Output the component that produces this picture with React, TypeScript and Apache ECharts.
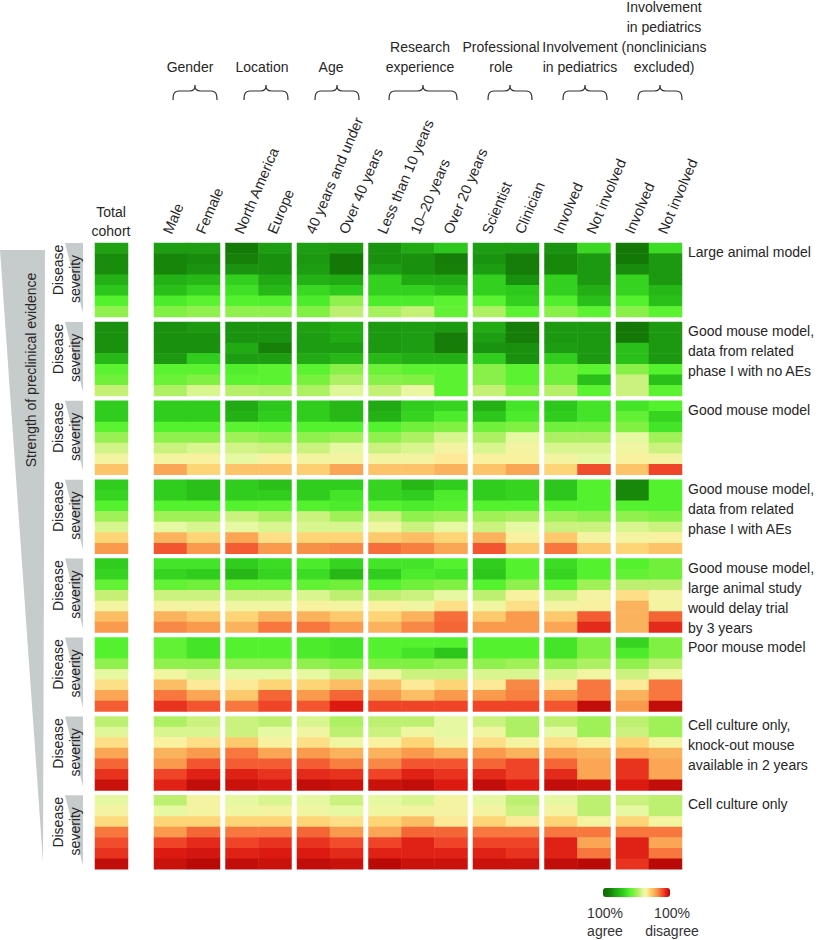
import React, { useEffect, useRef } from 'react';
import * as echarts from 'echarts';

const FONT = '"Liberation Sans", Arial, Helvetica, sans-serif';
const TXT = '#262626';

// Column groups (subgroups of respondents)
const groupNames = [
  [],
  ['Gender'],
  ['Location'],
  ['Age'],
  ['Research', 'experience'],
  ['Professional', 'role'],
  ['Involvement', 'in pediatrics'],
  ['Involvement', 'in pediatrics', '(nonclinicians', 'excluded)'],
];
const groupColumns = [
  ['Total cohort'],
  ['Male', 'Female'],
  ['North America', 'Europe'],
  ['40 years and under', 'Over 40 years'],
  ['Less than 10 years', '10–20 years', 'Over 20 years'],
  ['Scientist', 'Clinician'],
  ['Involved', 'Not involved'],
  ['Involved', 'Not involved'],
];

// Scenarios (rows of blocks), strongest preclinical evidence first
const scenarios = [
  'Large animal model',
  'Good mouse model,\ndata from related\nphase I with no AEs',
  'Good mouse model',
  'Good mouse model,\ndata from related\nphase I with AEs',
  'Good mouse model,\nlarge animal study\nwould delay trial\nby 3 years',
  'Poor mouse model',
  'Cell culture only,\nknock-out mouse\navailable in 2 years',
  'Cell culture only',
];
const severityLevels = ['S1', 'S2', 'S3', 'S4', 'S5', 'S6', 'S7'];

// Values: 0 = 100% agree, 100 = 100% disagree.
// One inner array per subgroup column (same order as groupColumns flattened),
// 7 disease-severity levels from top to bottom.
const largeAnimalModel = [
  [18, 13, 13, 22, 28, 40, 48],
  [17, 11, 11, 22, 26, 38, 46], [17, 13, 15, 24, 32, 41, 48],
  [8, 10, 15, 31, 35, 40, 48], [17, 14, 14, 20, 24, 39, 48],
  [17, 16, 17, 22, 33, 38, 46], [16, 7, 7, 20, 29, 48, 54],
  [15, 14, 17, 31, 31, 38, 51], [20, 14, 14, 20, 31, 38, 55], [28, 9, 10, 20, 26, 41, 42],
  [17, 15, 17, 31, 31, 41, 52], [17, 9, 9, 14, 29, 31, 41],
  [15, 12, 12, 31, 31, 39, 47], [33, 16, 16, 16, 21, 26, 41],
  [7, 7, 13, 32, 32, 40, 47], [34, 16, 16, 16, 24, 26, 41],
];
const goodMouseNoAEs = [
  [14, 14, 14, 24, 41, 44, 55],
  [14, 14, 14, 16, 41, 43, 52], [16, 14, 14, 30, 41, 46, 58],
  [15, 15, 20, 17, 39, 41, 53], [15, 15, 10, 17, 41, 41, 52],
  [18, 17, 17, 20, 41, 45, 52], [20, 20, 17, 24, 47, 52, 59],
  [16, 16, 16, 24, 43, 47, 55], [17, 17, 17, 21, 41, 46, 61], [16, 9, 9, 21, 41, 41, 41],
  [20, 17, 15, 30, 47, 47, 55], [9, 9, 14, 14, 41, 41, 46],
  [16, 16, 17, 30, 44, 44, 53], [16, 16, 16, 16, 41, 26, 41],
  [7, 7, 26, 26, 47, 56, 56], [16, 16, 16, 16, 40, 26, 41],
];
const goodMouse = [
  [30, 30, 41, 49, 57, 63, 73],
  [30, 30, 40, 48, 56, 63, 78], [30, 30, 40, 48, 58, 64, 70],
  [20, 22, 41, 50, 57, 60, 73], [28, 30, 40, 48, 56, 64, 73],
  [30, 30, 40, 48, 56, 63, 71], [24, 24, 40, 50, 60, 63, 78],
  [20, 22, 40, 48, 56, 63, 73], [30, 32, 44, 52, 58, 63, 73], [32, 38, 46, 58, 63, 66, 76],
  [22, 28, 44, 52, 58, 64, 73], [36, 38, 46, 60, 63, 64, 78],
  [28, 30, 44, 52, 58, 63, 70], [36, 36, 44, 52, 58, 60, 89],
  [36, 42, 46, 60, 62, 64, 73], [40, 32, 36, 50, 56, 63, 90],
];
const goodMouseWithAEs = [
  [30, 32, 40, 50, 58, 70, 80],
  [30, 30, 40, 50, 60, 76, 88], [26, 26, 40, 50, 58, 70, 80],
  [30, 30, 40, 56, 60, 78, 87], [26, 30, 41, 52, 58, 68, 80],
  [30, 30, 40, 56, 58, 70, 81], [30, 36, 38, 50, 58, 70, 82],
  [32, 32, 40, 56, 62, 72, 85], [24, 30, 38, 48, 56, 74, 83], [30, 38, 40, 50, 60, 70, 78],
  [30, 30, 40, 50, 56, 76, 88], [32, 32, 40, 52, 60, 64, 72],
  [28, 28, 40, 50, 56, 72, 84], [40, 40, 40, 48, 56, 63, 72],
  [12, 12, 40, 48, 58, 63, 70], [40, 40, 40, 46, 56, 64, 73],
];
const largeAnimalDelay = [
  [30, 32, 42, 55, 63, 74, 80],
  [36, 32, 42, 56, 63, 76, 82], [36, 30, 44, 56, 63, 72, 80],
  [30, 24, 42, 56, 62, 70, 76], [34, 32, 42, 56, 62, 76, 84],
  [38, 34, 42, 58, 64, 76, 84], [32, 24, 44, 54, 63, 72, 80],
  [36, 30, 40, 54, 64, 70, 76], [36, 38, 44, 56, 62, 76, 82], [40, 36, 46, 60, 68, 85, 86],
  [30, 28, 40, 54, 62, 72, 80], [40, 40, 48, 64, 68, 80, 80],
  [34, 32, 40, 56, 63, 72, 78], [40, 40, 50, 63, 64, 87, 93],
  [40, 42, 54, 68, 76, 76, 76], [44, 44, 54, 63, 63, 86, 93],
];
const poorMouse = [
  [40, 40, 48, 60, 68, 78, 87],
  [42, 42, 48, 62, 74, 84, 92], [36, 36, 48, 58, 66, 78, 88],
  [40, 40, 48, 60, 66, 72, 84], [40, 40, 48, 60, 70, 86, 90],
  [38, 38, 48, 60, 70, 80, 88], [36, 36, 46, 56, 74, 86, 95],
  [40, 40, 46, 62, 74, 80, 90], [40, 36, 46, 56, 66, 74, 90], [40, 28, 48, 56, 70, 80, 90],
  [40, 40, 48, 58, 66, 80, 90], [40, 40, 50, 58, 82, 83, 90],
  [36, 36, 48, 58, 66, 80, 88], [46, 46, 52, 62, 84, 84, 98],
  [32, 38, 48, 56, 66, 76, 80], [46, 46, 54, 62, 84, 84, 98],
];
const cellCultureKO = [
  [54, 59, 68, 78, 86, 92, 97],
  [52, 58, 64, 76, 80, 90, 94], [56, 58, 68, 80, 88, 94, 98],
  [56, 56, 72, 84, 87, 94, 97], [54, 60, 64, 78, 87, 92, 96],
  [58, 62, 68, 80, 87, 93, 98], [52, 54, 62, 76, 83, 92, 97],
  [54, 56, 64, 76, 82, 90, 97], [54, 62, 70, 80, 88, 94, 98], [60, 60, 63, 76, 88, 92, 95],
  [56, 62, 68, 80, 86, 93, 98], [52, 52, 63, 76, 90, 90, 95],
  [54, 60, 68, 78, 86, 93, 98], [50, 50, 64, 76, 78, 78, 97],
  [54, 56, 70, 78, 92, 92, 95], [50, 50, 63, 76, 78, 78, 98],
];
const cellCulture = [
  [60, 63, 69, 84, 89, 92, 98],
  [54, 60, 70, 80, 90, 95, 97], [63, 63, 70, 86, 93, 96, 99],
  [60, 62, 70, 84, 90, 94, 98], [58, 63, 70, 84, 92, 95, 97],
  [60, 62, 70, 86, 92, 95, 98], [56, 60, 68, 80, 89, 93, 97],
  [60, 62, 70, 78, 90, 94, 99], [58, 63, 74, 86, 94, 94, 97], [63, 63, 66, 86, 90, 94, 97],
  [60, 63, 70, 84, 90, 94, 97], [54, 56, 66, 84, 90, 92, 97],
  [60, 63, 70, 84, 94, 94, 98], [54, 54, 63, 84, 78, 84, 99],
  [56, 60, 70, 84, 94, 94, 92], [54, 54, 63, 84, 78, 84, 99],
];
const scenarioValues = [
  largeAnimalModel, goodMouseNoAEs, goodMouse, goodMouseWithAEs,
  largeAnimalDelay, poorMouse, cellCultureKO, cellCulture,
];

// Green (agree) -> yellow -> red (disagree)
const palette = [
  '#0f6a06', '#127206', '#168008', '#1a9410', '#22aa14', '#28bc18', '#30cc1e',
  '#40e026', '#54f22e', '#78f03e', '#a0f058', '#c4f076', '#e6f8a2', '#fcf0a0',
  '#fdd476', '#fcb860', '#f99a4c', '#f66e3a', '#f04428', '#dc1a12', '#b00606',
];

// layout
const CELL_W = 33;
const BLOCK_H = 74;
const BLOCK_STEP = 78.9;
const TOP0 = 243;
const groupLefts = [95, 154, 225.5, 297, 368.5, 473, 544.5, 616];
const headerCenters = [111, 190, 262, 331, 420, 501, 580, 664];
const braceCenters = [0, 195, 266, 337, 423, 510, 585, 660];

function braceD(w: number) {
  const h = w / 2;
  return `M0,15 C0,9 1,6 6,6 L${h - 6},6 C${h - 1},6 ${h},4 ${h},0 C${h},4 ${h + 1},6 ${h + 6},6 L${w - 6},6 C${w - 1},6 ${w},9 ${w},15`;
}
echarts.graphic.registerShape('brace2', echarts.graphic.extendPath(braceD(44), {}));
echarts.graphic.registerShape('brace3', echarts.graphic.extendPath(braceD(68), {}));

export default function App() {
  const ref = useRef<HTMLDivElement>(null);
  useEffect(() => {
    document.body.style.margin = '0';
    const chart = echarts.init(ref.current!, null, { renderer: 'svg' });
    const grid: any[] = [];
    const xAxis: any[] = [];
    const yAxis: any[] = [];
    const series: any[] = [];
    const graphic: any[] = [];

    scenarioValues.forEach((vals, b) => {
      const top = TOP0 + b * BLOCK_STEP;
      let colOffset = 0;
      groupColumns.forEach((cols, g) => {
        const idx = grid.length;
        grid.push({ left: groupLefts[g], top, width: cols.length * CELL_W, height: BLOCK_H });
        xAxis.push({ type: 'category', gridIndex: idx, data: cols, show: false });
        yAxis.push({ type: 'category', gridIndex: idx, data: severityLevels, inverse: true, show: false });
        const data: number[][] = [];
        cols.forEach((_, ci) => {
          vals[colOffset + ci].forEach((v, si) => data.push([ci, si, v]));
        });
        colOffset += cols.length;
        series.push({
          type: 'heatmap', xAxisIndex: idx, yAxisIndex: idx, data, silent: true,
          itemStyle: { borderWidth: 0 }, emphasis: { disabled: true },
        });
      });
      // scenario label
      graphic.push({
        type: 'text', x: 688, y: top - 1,
        style: { text: scenarios[b], fontSize: 14, fontFamily: FONT, fill: TXT, lineHeight: 20, align: 'left', verticalAlign: 'top' },
      });
      // small severity wedge
      graphic.push({
        type: 'polygon', shape: { points: [[65, top], [83, top], [83, top + 70]] },
        style: { fill: '#c6cbcb' },
      });
      graphic.push({
        type: 'text', x: 58, y: top + 27, rotation: Math.PI / 2,
        style: { text: 'Disease', fontSize: 14, fontFamily: FONT, fill: TXT, align: 'center', verticalAlign: 'middle' },
      });
      graphic.push({
        type: 'text', x: 75, y: top + 36, rotation: Math.PI / 2,
        style: { text: 'severity', fontSize: 14, fontFamily: FONT, fill: TXT, align: 'center', verticalAlign: 'middle' },
      });
    });

    // big evidence wedge
    graphic.unshift({
      type: 'polygon', shape: { points: [[0, 250], [45, 250], [43, 862]] },
      style: { fill: '#c6cbcb' },
    });
    graphic.push({
      type: 'text', x: 31, y: 370, rotation: Math.PI / 2,
      style: { text: 'Strength of preclinical evidence', fontSize: 14, fontFamily: FONT, fill: TXT, align: 'center', verticalAlign: 'middle' },
    });

    // total cohort header
    graphic.push({
      type: 'text', x: headerCenters[0], y: 221,
      style: { text: 'Total\ncohort', fontSize: 14, fontFamily: FONT, fill: TXT, lineHeight: 19, align: 'center', verticalAlign: 'middle' },
    });

    // group headers + braces + rotated column labels
    groupColumns.forEach((cols, g) => {
      if (g > 0) {
        const lines = groupNames[g];
        graphic.push({
          type: 'text', x: headerCenters[g], y: 77,
          style: { text: lines.join('\n'), fontSize: 14, fontFamily: FONT, fill: TXT, lineHeight: 20, align: 'center', verticalAlign: 'bottom' },
        });
        const w = cols.length === 3 ? 68 : 44;
        graphic.push({
          type: cols.length === 3 ? 'brace3' : 'brace2',
          x: braceCenters[g] - w / 2, y: 85,
          style: { fill: 'none', stroke: '#333', lineWidth: 1.2 },
        });
        cols.forEach((c, ci) => {
          graphic.push({
            type: 'text', x: groupLefts[g] + ci * CELL_W + 20, y: 236,
            rotation: (67 * Math.PI) / 180,
            style: { text: c, fontSize: 14.5, fontFamily: FONT, fill: TXT, align: 'left', verticalAlign: 'bottom' },
          });
        });
      }
    });

    // legend labels
    graphic.push({
      type: 'text', x: 605, y: 922,
      style: { text: '100%\nagree', fontSize: 14, fontFamily: FONT, fill: '#333', lineHeight: 18, align: 'center', verticalAlign: 'middle' },
    });
    graphic.push({
      type: 'text', x: 672, y: 922,
      style: { text: '100%\ndisagree', fontSize: 14, fontFamily: FONT, fill: '#333', lineHeight: 18, align: 'center', verticalAlign: 'middle' },
    });

    chart.setOption({
      animation: false,
      backgroundColor: '#ffffff',
      grid, xAxis, yAxis, series, graphic,
      visualMap: {
        type: 'continuous', min: 0, max: 100, orient: 'horizontal',
        left: 603, top: 888, itemWidth: 9, itemHeight: 67, padding: 0,
        calculable: false, hoverLink: false, realtime: false,
        inRange: { color: palette },
      },
    });
    return () => chart.dispose();
  }, []);
  return <div ref={ref} style={{ width: 830, height: 940 }} />;
}
